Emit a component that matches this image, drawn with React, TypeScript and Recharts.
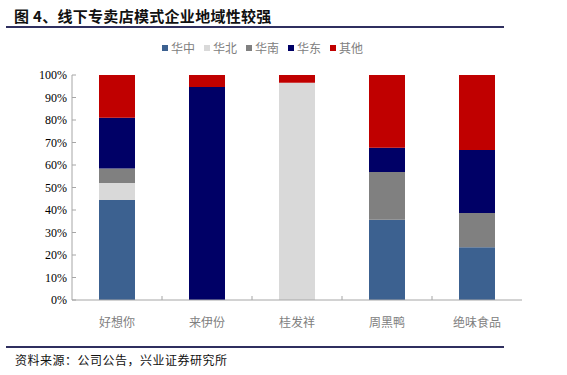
import { Bar, BarChart, XAxis, YAxis } from "recharts";

const COMPANIES = ["好想你", "来伊份", "桂发祥", "周黑鸭", "绝味食品"];
const HUAZHONG = [44.5, 0, 0, 35.7, 23.4];
const HUABEI = [7.5, 0, 96.6, 0, 0];
const HUANAN = [6.5, 0, 0, 21.2, 15.3];
const HUADONG = [22.5, 94.7, 0, 10.8, 28];
const OTHER = [19, 5.3, 3.4, 32.3, 33.3];
const Y_TICKS = [0, 10, 20, 30, 40, 50, 60, 70, 80, 90, 100];

const SERIES = [
  { key: "华中", values: HUAZHONG, color: "#3c6190" },
  { key: "华北", values: HUABEI, color: "#d9d9d9" },
  { key: "华南", values: HUANAN, color: "#808080" },
  { key: "华东", values: HUADONG, color: "#000066" },
  { key: "其他", values: OTHER, color: "#c00000" },
];

const chartData = COMPANIES.map((name, i) => {
  const row: Record<string, string | number> = { name };
  SERIES.forEach((s) => {
    row[s.key] = s.values[i];
  });
  return row;
});

const AXIS_COLOR = "#a6a6a6";
const CJK = "'Noto Sans CJK SC', sans-serif";

function YTick(props: any) {
  const { x, y, payload } = props;
  return (
    <g>
      <line x1={x} y1={y} x2={x + 4} y2={y} stroke={AXIS_COLOR} />
      <text x={x - 5} y={y} dy={4} textAnchor="end" fontFamily="'Liberation Serif', serif" fontSize={12} fill="#000">
        {payload.value}%
      </text>
    </g>
  );
}

function XTick(props: any) {
  const { x, y, payload, index } = props;
  // category boundaries get a small inward tick, like the original
  return (
    <g>
      {index < COMPANIES.length - 1 && (
        <line x1={x + 45} y1={y} x2={x + 45} y2={y - 4} stroke={AXIS_COLOR} />
      )}
      <text x={x} y={y + 27} textAnchor="middle" fontFamily={CJK} fontSize={12} fill="#808080">
        {payload.value}
      </text>
    </g>
  );
}

export default function App() {
  return (
    <div style={{ position: "absolute", left: 0, top: 0, width: 567, height: 375, background: "#fff" }}>
      <div
        style={{
          position: "absolute",
          left: 14,
          top: 6,
          fontFamily: CJK,
          fontWeight: 700,
          fontSize: 15,
          lineHeight: "20px",
          color: "#111",
          letterSpacing: 0.3,
        }}
      >
        图 4、线下专卖店模式企业地域性较强
      </div>
      <div style={{ position: "absolute", left: 6, top: 26, width: 498, height: 2, background: "#2f2f5f" }} />

      <div
        style={{
          position: "absolute",
          left: 162,
          top: 39,
          display: "flex",
          gap: 9,
          fontFamily: CJK,
          fontSize: 12,
          lineHeight: "18px",
          color: "#808080",
        }}
      >
        {SERIES.map((s) => (
          <span key={s.key} style={{ display: "flex", alignItems: "center" }}>
            <span style={{ width: 6, height: 6, background: s.color, marginRight: 3, display: "inline-block" }} />
            {s.key}
          </span>
        ))}
      </div>

      <BarChart
        width={567}
        height={345}
        data={chartData}
        margin={{ top: 75, right: 45, left: 12, bottom: 0 }}
        barSize={36}
        style={{ position: "absolute", left: 0, top: 0 }}
      >
        <XAxis
          dataKey="name"
          height={45}
          stroke={AXIS_COLOR}
          tickLine={false}
          tickSize={0}
          tickMargin={0}
          interval={0}
          tick={<XTick />}
        />
        <YAxis
          width={60}
          domain={[0, 100]}
          ticks={Y_TICKS}
          interval={0}
          stroke={AXIS_COLOR}
          tickLine={false}
          tickSize={0}
          tickMargin={0}
          tick={<YTick />}
        />
        {SERIES.map((s) => (
          <Bar key={s.key} dataKey={s.key} stackId="a" fill={s.color} isAnimationActive={false} />
        ))}
      </BarChart>

      <div style={{ position: "absolute", left: 6, top: 346, width: 498, height: 2, background: "#2f2f5f" }} />
      <div
        style={{
          position: "absolute",
          left: 15,
          top: 351,
          fontFamily: CJK,
          fontSize: 12,
          lineHeight: "18px",
          color: "#111",
          letterSpacing: 0.5,
        }}
      >
        资料来源：公司公告，兴业证券研究所
      </div>
    </div>
  );
}
